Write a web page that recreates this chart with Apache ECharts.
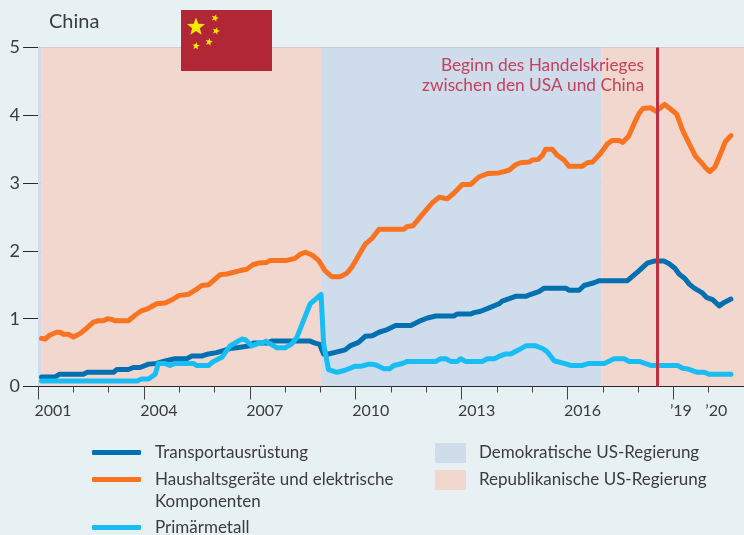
<!DOCTYPE html>
<html><head><meta charset="utf-8">
<style>html,body{margin:0;padding:0;background:#e7f1f3}#c{width:744px;height:535px}</style>
<script src="https://cdn.jsdelivr.net/npm/echarts@6/dist/echarts.min.js"></script></head>
<body><div id="c"></div>
<script>
const FONT = 'Lato';
const transportYears = [2001.10,2001.48,2001.60,2002.28,2002.40,2003.14,2003.23,2003.56,2003.70,2003.89,2004.13,2004.36,2004.55,2004.88,2005.21,2005.36,2005.64,2005.83,2006.06,2006.25,2006.44,2006.73,2007.01,2007.10,2007.48,2007.62,2008.71,2008.85,2008.98,2009.09,2009.23,2009.47,2009.70,2009.84,2010.08,2010.27,2010.47,2010.66,2010.85,2011.13,2011.56,2011.79,2012.03,2012.27,2012.78,2012.88,2013.26,2013.35,2013.54,2013.78,2014.06,2014.15,2014.53,2014.82,2014.96,2015.19,2015.34,2015.95,2016.04,2016.33,2016.47,2016.75,2016.89,2017.70,2018.03,2018.26,2018.45,2018.74,2018.88,2019.05,2019.16,2019.33,2019.45,2019.59,2019.82,2019.95,2020.11,2020.30,2020.44,2020.63];
const transportValues = [0.14,0.14,0.18,0.18,0.21,0.21,0.25,0.25,0.28,0.28,0.33,0.34,0.37,0.41,0.41,0.45,0.45,0.48,0.50,0.53,0.56,0.58,0.60,0.64,0.64,0.67,0.67,0.64,0.62,0.48,0.48,0.51,0.54,0.60,0.65,0.74,0.75,0.80,0.83,0.90,0.90,0.96,1.01,1.04,1.04,1.07,1.07,1.09,1.11,1.16,1.22,1.26,1.33,1.33,1.36,1.40,1.45,1.45,1.42,1.42,1.49,1.53,1.56,1.56,1.71,1.82,1.85,1.85,1.81,1.74,1.66,1.59,1.51,1.45,1.38,1.31,1.28,1.19,1.24,1.29];
const applianceYears = [2001.10,2001.20,2001.34,2001.53,2001.62,2001.72,2001.86,2002.00,2002.19,2002.38,2002.57,2002.71,2002.85,2002.97,2003.09,2003.18,2003.56,2003.75,2003.94,2004.08,2004.36,2004.60,2004.84,2004.98,2005.26,2005.45,2005.64,2005.83,2006.16,2006.35,2006.73,2006.91,2007.10,2007.25,2007.48,2007.58,2008.05,2008.28,2008.43,2008.57,2008.76,2008.95,2009.13,2009.32,2009.56,2009.75,2009.89,2010.08,2010.27,2010.47,2010.66,2011.37,2011.46,2011.62,2011.89,2012.17,2012.36,2012.60,2012.78,2013.02,2013.26,2013.49,2013.73,2014.06,2014.34,2014.53,2014.67,2014.91,2015.00,2015.17,2015.29,2015.38,2015.57,2015.71,2015.90,2016.04,2016.42,2016.56,2016.71,2016.94,2017.13,2017.27,2017.46,2017.56,2017.73,2017.89,2018.03,2018.14,2018.36,2018.50,2018.61,2018.75,2018.97,2019.09,2019.26,2019.40,2019.62,2019.78,2019.92,2020.03,2020.18,2020.34,2020.47,2020.63];
const applianceValues = [0.71,0.70,0.76,0.80,0.80,0.77,0.77,0.73,0.78,0.86,0.95,0.97,0.97,1.00,0.99,0.97,0.97,1.05,1.12,1.14,1.22,1.23,1.29,1.34,1.36,1.42,1.49,1.50,1.65,1.66,1.71,1.73,1.80,1.82,1.83,1.86,1.86,1.89,1.95,1.98,1.94,1.86,1.71,1.62,1.62,1.67,1.76,1.93,2.10,2.19,2.32,2.32,2.36,2.37,2.54,2.71,2.79,2.77,2.85,2.98,2.98,3.09,3.14,3.15,3.19,3.27,3.30,3.31,3.34,3.35,3.41,3.50,3.50,3.41,3.34,3.25,3.25,3.30,3.31,3.44,3.58,3.63,3.63,3.60,3.69,3.88,4.03,4.10,4.11,4.06,4.10,4.16,4.07,4.02,3.78,3.63,3.40,3.31,3.22,3.17,3.24,3.44,3.61,3.70];
const metalYears = [2001.10,2003.80,2003.94,2004.13,2004.32,2004.41,2004.60,2004.74,2004.88,2005.40,2005.50,2005.83,2005.97,2006.21,2006.44,2006.77,2006.87,2007.06,2007.25,2007.35,2007.45,2007.58,2007.77,2008.00,2008.19,2008.33,2008.71,2009.02,2009.09,2009.23,2009.47,2009.70,2009.99,2010.17,2010.36,2010.47,2010.61,2010.80,2010.96,2011.08,2011.32,2011.46,2012.27,2012.41,2012.55,2012.69,2012.88,2012.97,2013.11,2013.59,2013.73,2013.92,2014.04,2014.25,2014.39,2014.58,2014.82,2015.10,2015.29,2015.43,2015.62,2015.90,2016.09,2016.42,2016.61,2017.04,2017.32,2017.60,2017.75,2018.03,2018.36,2019.12,2019.26,2019.40,2019.68,2019.87,2020.01,2020.63];
const metalValues = [0.08,0.08,0.11,0.11,0.18,0.34,0.34,0.31,0.34,0.34,0.31,0.31,0.37,0.43,0.60,0.70,0.69,0.60,0.64,0.64,0.67,0.63,0.57,0.57,0.63,0.72,1.22,1.36,0.63,0.25,0.21,0.24,0.30,0.30,0.33,0.33,0.31,0.26,0.26,0.31,0.34,0.37,0.37,0.41,0.41,0.37,0.37,0.41,0.37,0.37,0.41,0.41,0.44,0.48,0.48,0.53,0.60,0.60,0.56,0.51,0.38,0.34,0.31,0.31,0.34,0.34,0.41,0.41,0.37,0.37,0.31,0.31,0.27,0.26,0.21,0.21,0.18,0.18];
const demoSpans = [[2001.0,2001.1],[2009.02,2016.96]];
const repSpans = [[2001.1,2009.02],[2016.96,2021]];
const tradeWarStart = 2018.53;
const labelYears = [2001,2004,2007,2010,2013,2016,2019,2020];
const tickYears = [2001,2004,2007,2010,2013,2016,2019];
const names = ['Transportausrüstung','Haushaltsgeräte und elektrische Komponenten','Primärmetall','Demokratische US-Regierung','Republikanische US-Regierung'];
const colors = {transport:'#0070b0',appliance:'#f97321',metal:'#17bdf3',demo:'#cedcec',rep:'#f2d7cf',war:'#bd2f42',text:'#3c3c3c',grid:'#bcbcbc'};

const zip=(a,b)=>a.map((x,i)=>[x,b[i]]);
const lineSeries=(name,xs,ys,c)=>({name,type:'line',data:zip(xs,ys),symbol:'none',z:3,lineStyle:{width:5,color:c,cap:'round',join:'round'},itemStyle:{color:c},emphasis:{disabled:true},silent:true});
const bandSeries=(name,spans,c)=>({name,type:'line',data:[],z:0,itemStyle:{color:c},lineStyle:{width:0},symbol:'none',silent:true,
  markArea:{silent:true,itemStyle:{color:c,opacity:1},data:spans.map(s=>[{xAxis:s[0]},{xAxis:s[1]}])}});
const leg=(name,left,top,w,h,icon,pad,fmt)=>({data:[{name,icon}],left,top,orient:'vertical',itemWidth:w,itemHeight:h,selectedMode:false,padding:0,formatter:fmt||'{name}',
  textStyle:{fontFamily:FONT,fontSize:17,color:colors.text,padding:[0,0,0,pad]}});
const star=(cx,cy,r,rot)=>{const p=[];for(let i=0;i<10;i++){const a=-Math.PI/2+rot+i*Math.PI/5,R=i%2?r*0.42:r;p.push([cx+R*Math.cos(a),cy+R*Math.sin(a)]);}
  return {type:'polygon',shape:{points:p},style:{fill:'#f4e900'},z:10};};

const chart=echarts.init(document.getElementById('c'),null,{renderer:'canvas'});
chart.setOption({
  backgroundColor:'#e7f1f3',animation:false,
  grid:{left:38,right:0,top:47.5,bottom:148.5,containLabel:false},
  xAxis:{type:'value',min:2001,max:2021,interval:3,z:4,
    axisLine:{show:true,onZero:false,lineStyle:{color:'#2a2a2a',width:1}},
    axisTick:{show:true,length:13,customValues:tickYears,lineStyle:{color:'#444',width:1}},
    minorTick:{show:true,splitNumber:3,length:6,lineStyle:{color:'#444',width:1}},
    splitLine:{show:false},minorSplitLine:{show:false},
    axisLabel:{customValues:labelYears,margin:16,fontFamily:FONT,fontSize:16,color:colors.text,showMinLabel:true,showMaxLabel:true,hideOverlap:false,
      formatter:v=>v>=2019?`{s|’${String(v).slice(2)}}`:`{l|${v}}`,
      rich:{l:{fontFamily:FONT,fontSize:16,color:colors.text,padding:[0,0,0,30]},s:{fontFamily:FONT,fontSize:16,color:colors.text,padding:[0,0,0,15]}}}},
  yAxis:{type:'value',min:0,max:5,interval:1,z:1,
    axisLine:{show:false},
    axisTick:{show:true,length:15,lineStyle:{color:'#2a2a2a',width:1}},
    splitLine:{show:true,lineStyle:{color:colors.grid,width:1}},
    axisLabel:{margin:18,fontFamily:FONT,fontSize:18,color:colors.text}},
  legend:[
    leg(names[0],92,444,49,5,'roundRect',9),
    leg(names[1],92,471,49,5,'roundRect',9,()=>'Haushaltsgeräte und elektrische'),
    leg(names[2],92,519,49,5,'roundRect',9),
    leg(names[3],435,443,31,20,'rect',8),
    leg(names[4],435,470,31,20,'rect',8)
  ],
  graphic:[
    {type:'text',x:49,y:12,z:10,style:{text:'China',fontFamily:FONT,fontSize:20,fill:colors.text}},
    {type:'text',x:155,y:493,z:10,style:{text:'Komponenten',fontFamily:FONT,fontSize:17,fill:colors.text}},
    {type:'text',x:644,y:55,z:10,style:{text:'Beginn des Handelskrieges\nzwischen den USA und China',fontFamily:FONT,fontSize:17.3,lineHeight:20,align:'right',fill:'#c8405a'}},
    {type:'rect',shape:{x:181,y:10,width:91,height:61},style:{fill:'#b22735'},z:9},
    star(196,27,9.5,0),star(215,18,4,0.3),star(216,31,4,0.3),star(209,42,4,0.2),star(196,46,4,0.1)
  ],
  series:[
    bandSeries(names[3],demoSpans,colors.demo),
    bandSeries(names[4],repSpans,colors.rep),
    {name:'Handelskrieg',type:'line',data:[],z:2,silent:true,
      markLine:{silent:true,symbol:'none',label:{show:false},lineStyle:{color:colors.war,width:3,type:'solid'},data:[{xAxis:tradeWarStart}]}},
    lineSeries(names[0],transportYears,transportValues,colors.transport),
    lineSeries(names[1],applianceYears,applianceValues,colors.appliance),
    lineSeries(names[2],metalYears,metalValues,colors.metal)
  ]
});
</script></body></html>
